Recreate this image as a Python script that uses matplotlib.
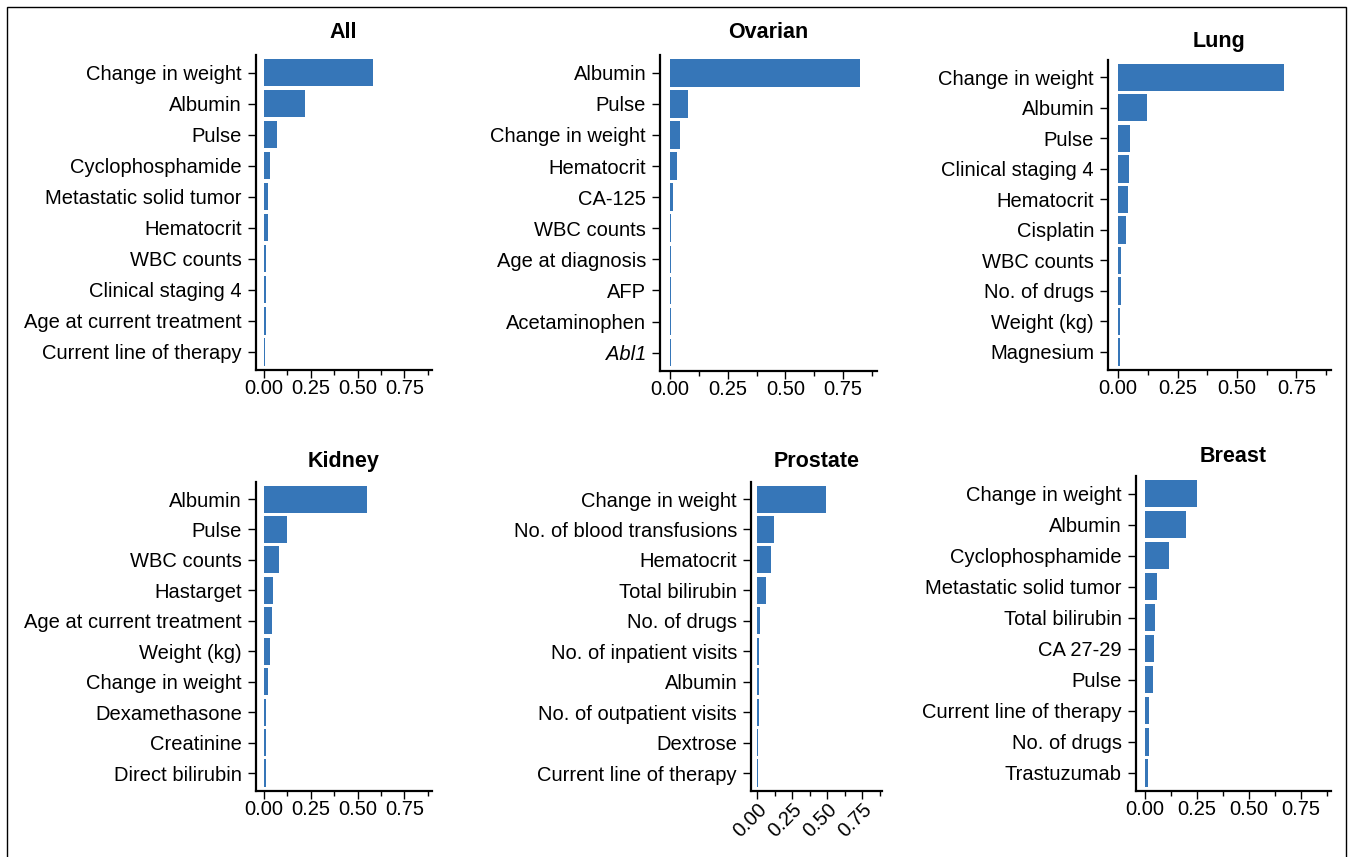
import matplotlib
matplotlib.use("Agg")
import matplotlib.pyplot as plt
from matplotlib.patches import Rectangle
from matplotlib.ticker import MultipleLocator

plt.rcParams['font.family'] = ['Liberation Sans', 'DejaVu Sans']

W, H = 1355, 857
BAR = '#3676B8'

all_labels = ["Change in weight", "Albumin", "Pulse", "Cyclophosphamide", "Metastatic solid tumor",
              "Hematocrit", "WBC counts", "Clinical staging 4", "Age at current treatment",
              "Current line of therapy"]
all_vals = [0.584, 0.220, 0.070, 0.034, 0.021, 0.021, 0.011, 0.011, 0.011, 0.004]

ovarian_labels = ["Albumin", "Pulse", "Change in weight", "Hematocrit", "CA-125", "WBC counts",
                  "Age at diagnosis", "AFP", "Acetaminophen", "Abl1"]
ovarian_vals = [0.822, 0.078, 0.044, 0.030, 0.013, 0.005, 0.004, 0.004, 0.004, 0.004]

lung_labels = ["Change in weight", "Albumin", "Pulse", "Clinical staging 4", "Hematocrit", "Cisplatin",
               "WBC counts", "No. of drugs", "Weight (kg)", "Magnesium"]
lung_vals = [0.698, 0.122, 0.051, 0.046, 0.042, 0.034, 0.013, 0.013, 0.008, 0.008]

kidney_labels = ["Albumin", "Pulse", "WBC counts", "Hastarget", "Age at current treatment",
                 "Weight (kg)", "Change in weight", "Dexamethasone", "Creatinine", "Direct bilirubin"]
kidney_vals = [0.552, 0.125, 0.082, 0.050, 0.044, 0.034, 0.023, 0.012, 0.012, 0.012]

prostate_labels = ["Change in weight", "No. of blood transfusions", "Hematocrit", "Total bilirubin",
                   "No. of drugs", "No. of inpatient visits", "Albumin", "No. of outpatient visits",
                   "Dextrose", "Current line of therapy"]
prostate_vals = [0.493, 0.119, 0.098, 0.062, 0.019, 0.012, 0.012, 0.012, 0.006, 0.006]

breast_labels = ["Change in weight", "Albumin", "Cyclophosphamide", "Metastatic solid tumor",
                 "Total bilirubin", "CA 27-29", "Pulse", "Current line of therapy", "No. of drugs",
                 "Trastuzumab"]
breast_vals = [0.250, 0.201, 0.118, 0.060, 0.050, 0.045, 0.040, 0.021, 0.019, 0.016]

italic_labels = ["Abl1"]

ticks = [0.0, 0.25, 0.5, 0.75]
tick_labels = ["0.00", "0.25", "0.50", "0.75"]

panels = [
    ("All", all_labels, all_vals, (255.7, 55, 431.7, 370), 33, False),
    ("Ovarian", ovarian_labels, ovarian_vals, (660, 55, 876.7, 371), 33, False),
    ("Lung", lung_labels, lung_vals, (1108, 60, 1330.7, 370), 41, False),
    ("Kidney", kidney_labels, kidney_vals, (255.7, 481.7, 431.7, 791), 462, False),
    ("Prostate", prostate_labels, prostate_vals, (751, 481.7, 882.3, 791), 462, True),
    ("Breast", breast_labels, breast_vals, (1135.7, 476, 1330.7, 791), 456, False),
]

fig = plt.figure(figsize=(W / 100, H / 100), dpi=100)

# outer frame
fig.add_artist(Rectangle((7 / W, -0.05), (1346 - 7) / W, 1.05 - 7 / H, transform=fig.transFigure,
                         fill=False, edgecolor='black', linewidth=1.0))

FS = 14.5
for title, labels, vals, (x0, y0, x1, y1), ty, rot in panels:
    ax = fig.add_axes([x0 / W, 1 - y1 / H, (x1 - x0) / W, (y1 - y0) / H])
    ypos = list(range(len(labels)))
    ax.barh(ypos, vals, height=0.89, color=BAR)
    ax.set_yticks(ypos)
    ax.set_yticklabels(labels, fontsize=FS)
    for tl in ax.get_yticklabels():
        if tl.get_text() in italic_labels:
            tl.set_fontstyle('italic')
    ax.set_ylim(len(labels) - 0.41, -0.57)
    ax.set_xlim(-0.043, 0.895)
    ax.set_xticks(ticks)
    ax.xaxis.set_minor_locator(MultipleLocator(0.125))
    if rot:
        ax.set_xticklabels(tick_labels, fontsize=FS, rotation=45, ha='right', rotation_mode='anchor')
    else:
        ax.set_xticklabels(tick_labels, fontsize=FS)
    for s in ['top', 'right']:
        ax.spines[s].set_visible(False)
    for s in ['left', 'bottom']:
        ax.spines[s].set_linewidth(1.6)
    ax.tick_params(axis='both', which='major', length=6, width=1.0)
    ax.tick_params(axis='y', which='major', pad=4)
    ax.tick_params(axis='x', which='major', pad=0.5)
    ax.tick_params(axis='x', which='minor', length=3.5, width=1.0)
    cx = (x0 + x1) / 2
    fig.text(cx / W, 1 - ty / H, title, ha='center', va='center', fontsize=15.5, fontweight='bold')

fig.savefig("out.png", dpi=100)
